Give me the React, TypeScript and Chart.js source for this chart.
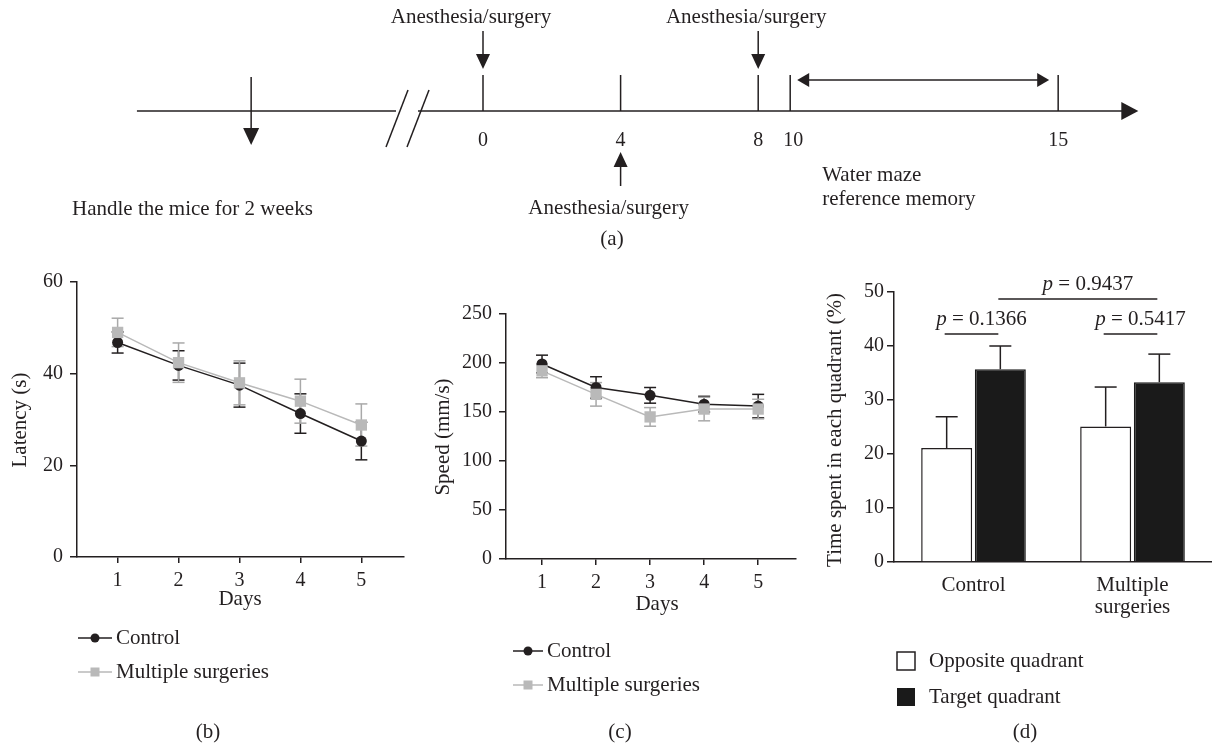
import React, { useEffect, useRef } from 'react';
import { Chart, registerables } from 'chart.js';

Chart.register(...registerables);

const FONT = '"Liberation Serif", "Times New Roman", Times, serif';
const INK = '#231f20';
const GRAY = '#b9b9b9';
const GRAY_ERR = '#a9a9a9';

// ---------- (a) timeline (schematic day positions) ----------
const tlTickLabels = ['0', '4', '8', '10', '15'];
const tlTickPos = [0, 4, 8, 8.93, 16.72];
const tlSurgeryPos = [0, 4, 8];
const tlSurgerySide = ['above', 'below', 'above'];
const tlHandlePos = -6.74;
const tlBreakPos = -2.18;
const tlStart = -10.06;
const tlEnd = 19.05;

// ---------- (b) latency ----------
const days = [1, 2, 3, 4, 5];
const latencyControl = [46.8, 41.8, 37.5, 31.3, 25.3];
const latencyControlErr = [2.3, 3.2, 4.8, 4.3, 4.1];
const latencyMulti = [49.0, 42.4, 38.0, 34.0, 28.8];
const latencyMultiErr = [3.1, 4.3, 4.8, 4.8, 4.6];

// ---------- (c) speed ----------
const speedControl = [199, 175, 167, 158, 156];
const speedControlErr = [9, 11, 8, 8, 12];
const speedMulti = [192, 168, 145, 153, 153];
const speedMultiErr = [7, 12, 9.5, 12, 10];

// ---------- (d) time in quadrant ----------
const groups = [['Control'], ['Multiple', 'surgeries']];
const opposite = [21.1, 25.1];
const oppositeErr = [5.8, 7.3];
const target = [35.7, 33.3];
const targetErr = [4.3, 5.2];
const pValues = ['0.1366', '0.5417', '0.9437'];
const pFrom = [[0, 0], [1, 0], [0, 1]]; // [category, dataset]
const pTo = [[0, 1], [1, 1], [1, 1]];
const pLevel = [42.2, 42.2, 48.7];

const X_MIN = 1 / 3;
const X_MAX = 5.7;

function txt(ctx: CanvasRenderingContext2D, s: string, x: number, y: number, o: any = {}) {
  ctx.save();
  ctx.font = `${o.italic ? 'italic ' : ''}${o.size ?? 21}px ${FONT}`;
  ctx.fillStyle = o.color ?? INK;
  ctx.textAlign = o.align ?? 'left';
  ctx.textBaseline = 'middle';
  ctx.translate(x, y);
  if (o.rotate) ctx.rotate(-Math.PI / 2);
  ctx.fillText(s, 0, 0);
  ctx.restore();
}

function seg(ctx: CanvasRenderingContext2D, x1: number, y1: number, x2: number, y2: number) {
  ctx.beginPath();
  ctx.moveTo(x1, y1);
  ctx.lineTo(x2, y2);
  ctx.stroke();
}

function tri(ctx: CanvasRenderingContext2D, pts: number[][]) {
  ctx.beginPath();
  ctx.moveTo(pts[0][0], pts[0][1]);
  ctx.lineTo(pts[1][0], pts[1][1]);
  ctx.lineTo(pts[2][0], pts[2][1]);
  ctx.closePath();
  ctx.fill();
}

function pText(ctx: CanvasRenderingContext2D, value: string, cx: number, y: number) {
  ctx.save();
  ctx.textBaseline = 'middle';
  ctx.textAlign = 'left';
  ctx.fillStyle = INK;
  ctx.font = `italic 21px ${FONT}`;
  const wp = ctx.measureText('p').width;
  ctx.font = `21px ${FONT}`;
  const rest = ' = ' + value;
  const wr = ctx.measureText(rest).width;
  const x0 = cx - (wp + wr) / 2;
  ctx.font = `italic 21px ${FONT}`;
  ctx.fillText('p', x0, y);
  ctx.font = `21px ${FONT}`;
  ctx.fillText(rest, x0 + wp, y);
  ctx.restore();
}

const timelinePlugin = {
  id: 'timeline',
  afterDraw(chart: any) {
    const ctx: CanvasRenderingContext2D = chart.ctx;
    const X = (u: number) => chart.scales.x.getPixelForValue(u);
    const Y0 = 111;
    ctx.save();
    ctx.strokeStyle = INK;
    ctx.fillStyle = INK;
    ctx.lineWidth = 1.5;
    // main axis with arrow
    const xe = X(tlEnd);
    seg(ctx, X(tlStart), Y0, xe - 14, Y0);
    tri(ctx, [[xe, Y0], [xe - 17, Y0 - 9], [xe - 17, Y0 + 9]]);
    // handling arrow
    const xh = X(tlHandlePos);
    seg(ctx, xh, 77, xh, 130);
    tri(ctx, [[xh, 145], [xh - 8, 128], [xh + 8, 128]]);
    // axis break
    const xb = X(tlBreakPos);
    ctx.fillStyle = '#fff';
    ctx.fillRect(xb - 12, Y0 - 2, 22, 4);
    ctx.fillStyle = INK;
    seg(ctx, xb - 22, 147, xb, 90);
    seg(ctx, xb - 1, 147, xb + 21, 90);
    // ticks and labels
    tlTickPos.forEach((p, i) => {
      const x = X(p);
      seg(ctx, x, 75, x, Y0);
      txt(ctx, tlTickLabels[i], x + (i === 3 ? 3 : 0), 141, { size: 20, align: 'center' });
    });
    // surgery arrows
    tlSurgeryPos.forEach((p, i) => {
      const x = X(p);
      if (tlSurgerySide[i] === 'above') {
        seg(ctx, x, 31, x, 58);
        tri(ctx, [[x, 69], [x - 7, 54], [x + 7, 54]]);
        txt(ctx, 'Anesthesia/surgery', x - 12, 17, { size: 21, align: 'center' });
      } else {
        seg(ctx, x, 160, x, 186);
        tri(ctx, [[x, 152], [x - 7, 167], [x + 7, 167]]);
        txt(ctx, 'Anesthesia/surgery', x - 12, 208, { size: 21, align: 'center' });
      }
    });
    // water maze period
    const xa = X(tlTickPos[3]) + 7;
    const xz = X(tlTickPos[4]) - 9;
    const ya = 80;
    seg(ctx, xa + 10, ya, xz - 10, ya);
    tri(ctx, [[xa, ya], [xa + 12, ya - 7], [xa + 12, ya + 7]]);
    tri(ctx, [[xz, ya], [xz - 12, ya - 7], [xz - 12, ya + 7]]);
    txt(ctx, 'Water maze', X(tlTickPos[3]) + 32, 175, { size: 21 });
    txt(ctx, 'reference memory', X(tlTickPos[3]) + 32, 199, { size: 21 });
    txt(ctx, 'Handle the mice for 2 weeks', 72, 209, { size: 21 });
    txt(ctx, '(a)', 612, 239, { size: 21, align: 'center' });
    ctx.restore();
  },
};

const errorBarPlugin = {
  id: 'errorBars',
  beforeDatasetsDraw(chart: any) {
    drawErrors(chart, false);
  },
  afterDatasetsDraw(chart: any) {
    drawErrors(chart, true);
  },
};

function drawErrors(chart: any, after: boolean) {
  const ctx: CanvasRenderingContext2D = chart.ctx;
  const ys = chart.scales.y;
  chart.data.datasets.forEach((ds: any, di: number) => {
    if (!ds.errors || !!ds.errorAfter !== after) return;
    const meta = chart.getDatasetMeta(di);
    ctx.save();
    ctx.strokeStyle = ds.errorColor;
    ctx.lineWidth = 1.5;
    const cap = ds.capHalf ?? 6;
    meta.data.forEach((el: any, i: number) => {
      const d = ds.data[i];
      const v = typeof d === 'number' ? d : d.y;
      const e = ds.errors[i];
      const x = el.x;
      const yTop = ys.getPixelForValue(v + e);
      const yBot = ds.upOnly ? ys.getPixelForValue(v) : ys.getPixelForValue(v - e);
      seg(ctx, x, yTop, x, yBot);
      seg(ctx, x - cap, yTop, x + cap, yTop);
      if (!ds.upOnly) seg(ctx, x - cap, yBot, x + cap, yBot);
    });
    ctx.restore();
  });
}

function legendLine(ctx: CanvasRenderingContext2D, x1: number, x2: number, y: number, color: string, square: boolean, label: string) {
  ctx.save();
  ctx.strokeStyle = color;
  ctx.fillStyle = color;
  ctx.lineWidth = 1.5;
  seg(ctx, x1, y, x2, y);
  const cx = (x1 + x2) / 2;
  ctx.beginPath();
  if (square) ctx.rect(cx - 4.5, y - 4.5, 9, 9);
  else ctx.arc(cx, y, 4.5, 0, Math.PI * 2);
  ctx.fill();
  ctx.restore();
  txt(ctx, label, x2 + 4, y, { size: 21 });
}

function axisBase(size: number) {
  return {
    border: { color: INK, width: 1.5 },
    grid: { drawOnChartArea: false, color: INK, lineWidth: 1.5, tickLength: 6 },
    ticks: { color: INK, font: { family: FONT, size }, padding: 6 },
  };
}

function lineConfig(p: any) {
  const xb = axisBase(20);
  const yb = axisBase(20);
  return {
    type: 'scatter',
    data: {
      datasets: [
        {
          label: 'Control',
          data: days.map((d, i) => ({ x: d, y: p.control[i] })),
          showLine: true,
          borderColor: INK,
          borderWidth: 1.5,
          pointStyle: 'circle',
          pointRadius: 5.5,
          pointBackgroundColor: INK,
          pointBorderColor: INK,
          pointBorderWidth: 0,
          errors: p.controlErr,
          errorColor: INK,
          order: 2,
          clip: false,
        },
        {
          label: 'Multiple surgeries',
          data: days.map((d, i) => ({ x: d, y: p.multi[i] })),
          showLine: true,
          borderColor: GRAY,
          borderWidth: 1.5,
          pointStyle: 'rect',
          pointRadius: 8,
          pointBackgroundColor: GRAY,
          pointBorderColor: GRAY,
          pointBorderWidth: 0,
          errors: p.multiErr,
          errorColor: GRAY_ERR,
          order: 1,
          clip: false,
        },
      ],
    },
    options: {
      animation: false,
      responsive: false,
      events: [],
      layout: { padding: { top: p.top, right: p.right, left: 0, bottom: 0 } },
      plugins: { legend: { display: false }, tooltip: { enabled: false } },
      scales: {
        x: {
          type: 'linear',
          min: X_MIN,
          max: X_MAX,
          afterBuildTicks: (s: any) => {
            s.ticks = days.map((v) => ({ value: v }));
          },
          afterFit: (s: any) => {
            s.height = p.xH;
          },
          ...xb,
        },
        y: {
          type: 'linear',
          min: 0,
          max: p.yMax,
          ...yb,
          ticks: { ...yb.ticks, stepSize: p.yStep, padding: 7 },
          grid: { ...yb.grid, tickLength: 7 },
          afterFit: (s: any) => {
            s.width = p.yW;
          },
        },
      },
    },
    plugins: [errorBarPlugin, p.textPlugin],
  };
}

function makeBConfig() {
  return lineConfig({
    control: latencyControl,
    controlErr: latencyControlErr,
    multi: latencyMulti,
    multiErr: latencyMultiErr,
    yMax: 60,
    yStep: 20,
    top: 20,
    right: 16,
    yW: 77,
    xH: 191,
    textPlugin: {
      id: 'textB',
      afterDraw(chart: any) {
        const ctx = chart.ctx;
        txt(ctx, 'Latency (s)', 20, 158, { rotate: true, align: 'center' });
        txt(ctx, 'Days', 240, 337, { align: 'center' });
        legendLine(ctx, 78, 112, 376, INK, false, 'Control');
        legendLine(ctx, 78, 112, 410, GRAY, true, 'Multiple surgeries');
        txt(ctx, '(b)', 208, 470, { align: 'center' });
      },
    },
  });
}

function makeCConfig() {
  return lineConfig({
    control: speedControl,
    controlErr: speedControlErr,
    multi: speedMulti,
    multiErr: speedMultiErr,
    yMax: 250,
    yStep: 50,
    top: 52,
    right: 19,
    yW: 81,
    xH: 189,
    textPlugin: {
      id: 'textC',
      afterDraw(chart: any) {
        const ctx = chart.ctx;
        txt(ctx, 'Speed (mm/s)', 18, 175, { rotate: true, align: 'center' });
        txt(ctx, 'Days', 232, 342, { align: 'center' });
        legendLine(ctx, 88, 118, 389, INK, false, 'Control');
        legendLine(ctx, 88, 118, 423, GRAY, true, 'Multiple surgeries');
        txt(ctx, '(c)', 195, 470, { align: 'center' });
      },
    },
  });
}

function makeDConfig() {
  const yb = axisBase(20);
  return {
    type: 'bar',
    data: {
      labels: groups,
      datasets: [
        {
          label: 'Opposite quadrant',
          data: opposite,
          backgroundColor: '#ffffff',
          borderColor: INK,
          borderWidth: 1.5,
          errors: oppositeErr,
          errorColor: INK,
          upOnly: true,
          errorAfter: true,
          capHalf: 11,
          barPercentage: 0.95,
          categoryPercentage: 0.675,
        },
        {
          label: 'Target quadrant',
          data: target,
          backgroundColor: '#1a1a1a',
          borderColor: '#1a1a1a',
          borderWidth: 1.5,
          errors: targetErr,
          errorColor: INK,
          upOnly: true,
          errorAfter: true,
          capHalf: 11,
          barPercentage: 0.95,
          categoryPercentage: 0.675,
        },
      ],
    },
    options: {
      animation: false,
      responsive: false,
      events: [],
      layout: { padding: { top: 30, right: 0, left: 0, bottom: 0 } },
      plugins: { legend: { display: false }, tooltip: { enabled: false } },
      scales: {
        x: {
          type: 'category',
          border: { color: INK, width: 1.5 },
          grid: { display: false, drawTicks: false },
          ticks: { color: INK, font: { family: FONT, size: 21, lineHeight: 1.05 }, padding: 12 },
          afterFit: (s: any) => {
            s.height = 186;
          },
        },
        y: {
          type: 'linear',
          min: 0,
          max: 50,
          ...yb,
          ticks: { ...yb.ticks, stepSize: 10, padding: 3 },
          grid: { ...yb.grid, tickLength: 7 },
          afterFit: (s: any) => {
            s.width = 79;
          },
        },
      },
    },
    plugins: [
      errorBarPlugin,
      {
        id: 'textD',
        afterDraw(chart: any) {
          const ctx: CanvasRenderingContext2D = chart.ctx;
          const ys = chart.scales.y;
          ctx.save();
          ctx.strokeStyle = INK;
          ctx.lineWidth = 1.5;
          pValues.forEach((pv, i) => {
            const a = chart.getDatasetMeta(pFrom[i][1]).data[pFrom[i][0]];
            const b = chart.getDatasetMeta(pTo[i][1]).data[pTo[i][0]];
            const y = ys.getPixelForValue(pLevel[i]);
            seg(ctx, a.x - 2, y, b.x - 2, y);
            pText(ctx, pv, (a.x + b.x) / 2 + 8, y - 15);
          });
          ctx.restore();
          txt(ctx, 'Time spent in each quadrant (%)', 20, 168, { rotate: true, align: 'center' });
          ctx.save();
          ctx.lineWidth = 1.5;
          ctx.strokeStyle = INK;
          ctx.fillStyle = '#fff';
          ctx.fillRect(82, 390, 18, 18);
          ctx.strokeRect(82, 390, 18, 18);
          ctx.fillStyle = '#1a1a1a';
          ctx.fillRect(82, 426, 18, 18);
          ctx.restore();
          txt(ctx, 'Opposite quadrant', 114, 399);
          txt(ctx, 'Target quadrant', 114, 435);
          txt(ctx, '(d)', 210, 470, { align: 'center' });
        },
      },
    ],
  };
}

function makeTimelineConfig() {
  return {
    type: 'scatter',
    data: {
      datasets: [
        {
          data: tlTickPos.map((p) => ({ x: p, y: 0 })),
          pointRadius: 0,
        },
      ],
    },
    options: {
      animation: false,
      responsive: false,
      events: [],
      layout: { padding: 0 },
      plugins: { legend: { display: false }, tooltip: { enabled: false } },
      scales: {
        x: { type: 'linear', display: false, min: -483 / 34.4, max: (1212 - 483) / 34.4 },
        y: { type: 'linear', display: false, min: -1, max: 1 },
      },
    },
    plugins: [timelinePlugin],
  };
}

function ChartCanvas({ left, top, width, height, build }: any) {
  const ref = useRef<HTMLCanvasElement>(null);
  useEffect(() => {
    const chart = new Chart(ref.current as HTMLCanvasElement, build() as any);
    return () => chart.destroy();
  }, []);
  return (
    <canvas
      ref={ref}
      width={width}
      height={height}
      style={{ position: 'absolute', left, top, width, height, display: 'block' }}
    />
  );
}

export default function App() {
  return (
    <div
      style={{
        position: 'fixed',
        left: 0,
        top: 0,
        width: 1212,
        height: 748,
        background: '#ffffff',
        overflow: 'hidden',
      }}
    >
      <ChartCanvas left={0} top={0} width={1212} height={255} build={makeTimelineConfig} />
      <ChartCanvas left={0} top={262} width={420} height={486} build={makeBConfig} />
      <ChartCanvas left={425} top={262} width={390} height={486} build={makeCConfig} />
      <ChartCanvas left={815} top={262} width={397} height={486} build={makeDConfig} />
    </div>
  );
}
